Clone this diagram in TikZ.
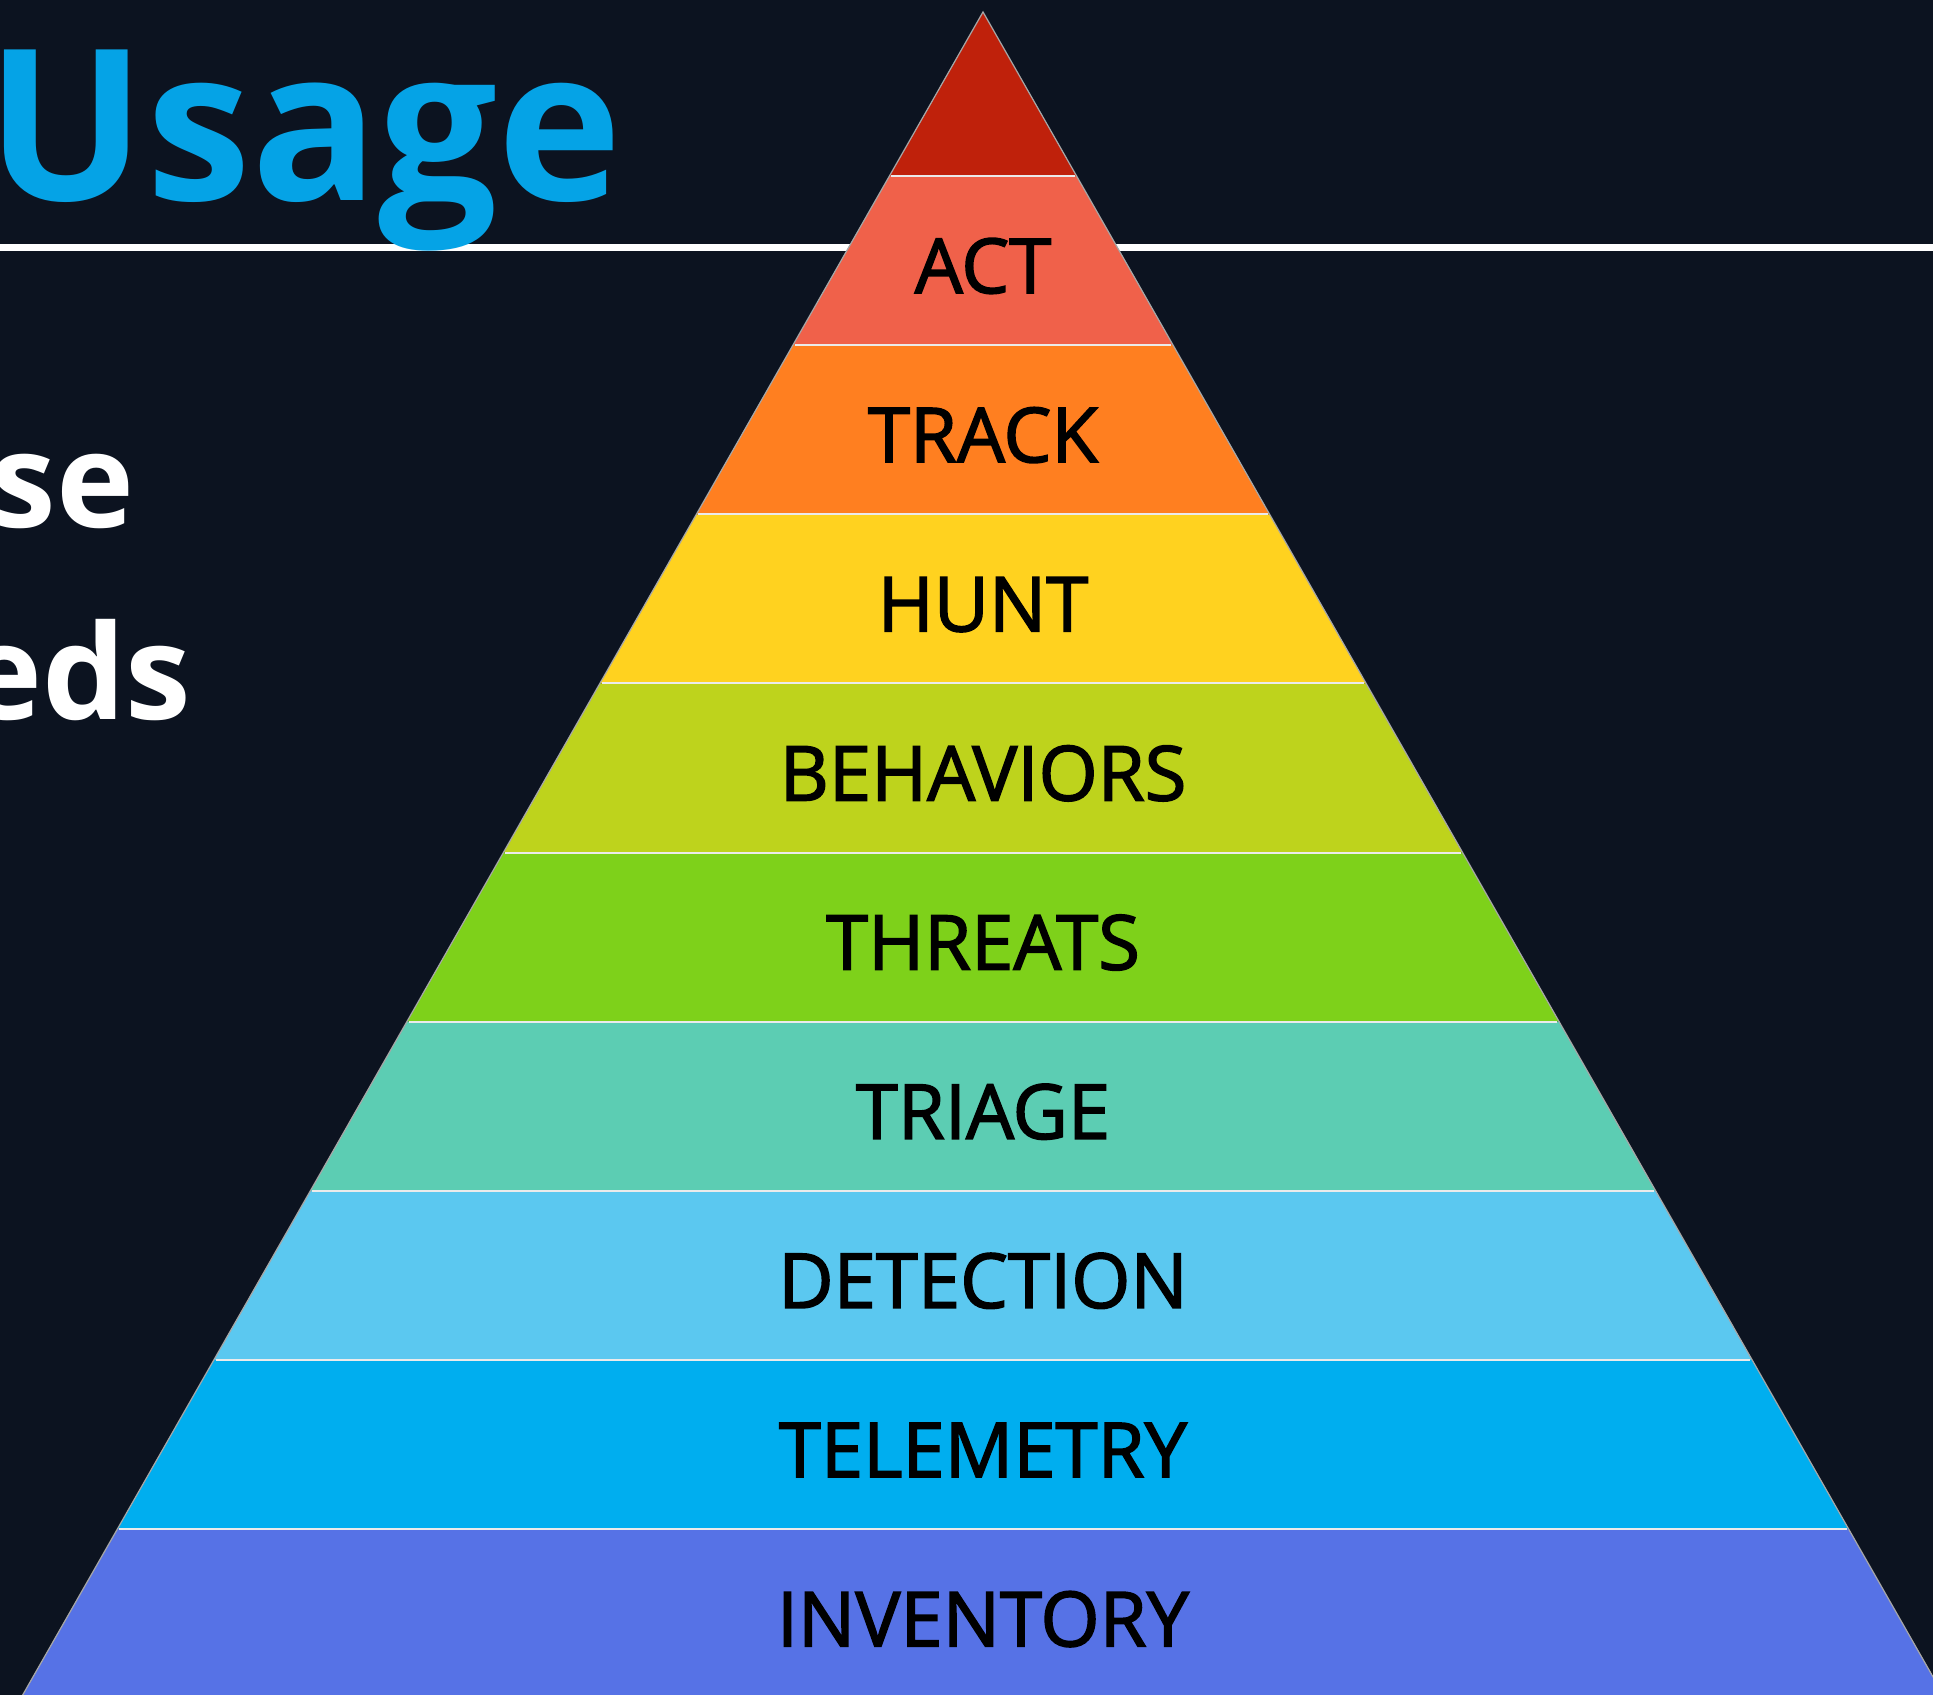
\documentclass[tikz,border=0pt]{standalone}
\usepackage{fontspec}
\setmainfont{Open Sans}
\newfontfamily\layerfont{Open Sans}[FakeBold=2]
\usetikzlibrary{positioning}

\definecolor{bgnavy}{HTML}{0C1320}
\definecolor{titleblue}{HTML}{05A3E6}
\definecolor{peakred}{HTML}{BF210B}
\definecolor{actred}{HTML}{F0614A}
\definecolor{trackorange}{HTML}{FF7F20}
\definecolor{huntyellow}{HTML}{FFD21F}
\definecolor{behavgreen}{HTML}{BED31C}
\definecolor{threatgreen}{HTML}{7ED11A}
\definecolor{triageteal}{HTML}{5CCDB3}
\definecolor{detectblue}{HTML}{5BC8F0}
\definecolor{teleblue}{HTML}{00AEEF}
\definecolor{invblue}{HTML}{5672E6}

\begin{document}
\begin{tikzpicture}[x=0.01cm, y=-0.01cm,
    layerlabel/.style={font=\layerfont\fontsize{21.6}{24}\selectfont, text=black,
                       inner sep=0pt, text height=15.4pt, text depth=0pt},
    sepline/.style={draw=white!92!black, line width=0.6pt},
    bigword/.style={font=\bfseries\fontsize{37.5}{40}\selectfont, text=white, inner sep=0pt}]
    % background and frame
    \fill[bgnavy] (0,0) rectangle (1933,1695);
    \useasboundingbox (0,0) rectangle (1933,1695);
    \clip (0,0) rectangle (1933,1695);
    % rule under the heading, runs behind the pyramid
    \fill[white] (0,244) rectangle (1933,251);
    % heading and the two cut-off words
    \node[anchor=base west, inner sep=0pt, text=titleblue,
          font=\bfseries\fontsize{60}{64}\selectfont] (usage) at (-14,201) {Usage};
    \node[bigword, anchor=base east] (wordse) at (135,528) {se};
    \node[bigword, anchor=base east] (wordeds) at (192,720) {eds};
    % pyramid: apex at (983,12), half width grows 0.5706 per unit down
    \fill[peakred] (983,12) -- (983-93.6,176) -- (983+93.6,176) -- cycle;
    \foreach \col/\txt [count=\k] in {actred/ACT, trackorange/TRACK, huntyellow/HUNT,
            behavgreen/BEHAVIORS, threatgreen/THREATS, triageteal/TRIAGE,
            detectblue/DETECTION, teleblue/TELEMETRY, invblue/INVENTORY} {
        \pgfmathsetmacro{\ytop}{176+169.15*(\k-1)}
        \pgfmathsetmacro{\ybot}{\ytop+169.15}
        \pgfmathsetmacro{\wtop}{0.5706*(\ytop-12)}
        \pgfmathsetmacro{\wbot}{0.5706*(\ybot-12)}
        \fill[\col] (983-\wtop,\ytop) -- (983+\wtop,\ytop)
                 -- (983+\wbot,\ybot) -- (983-\wbot,\ybot) -- cycle;
        \draw[sepline] (983-\wtop+2,\ytop) -- (983+\wtop-2,\ytop);
        \node[layerlabel] (layer\k) at (983,\ytop+90) {\txt};
    }
    % thin grey rim along the two slopes
    \draw[gray!70, line width=0.35pt] (983-0.5706*1700,1712) -- (983,12) -- (983+0.5706*1700,1712);
\end{tikzpicture}
\end{document}
